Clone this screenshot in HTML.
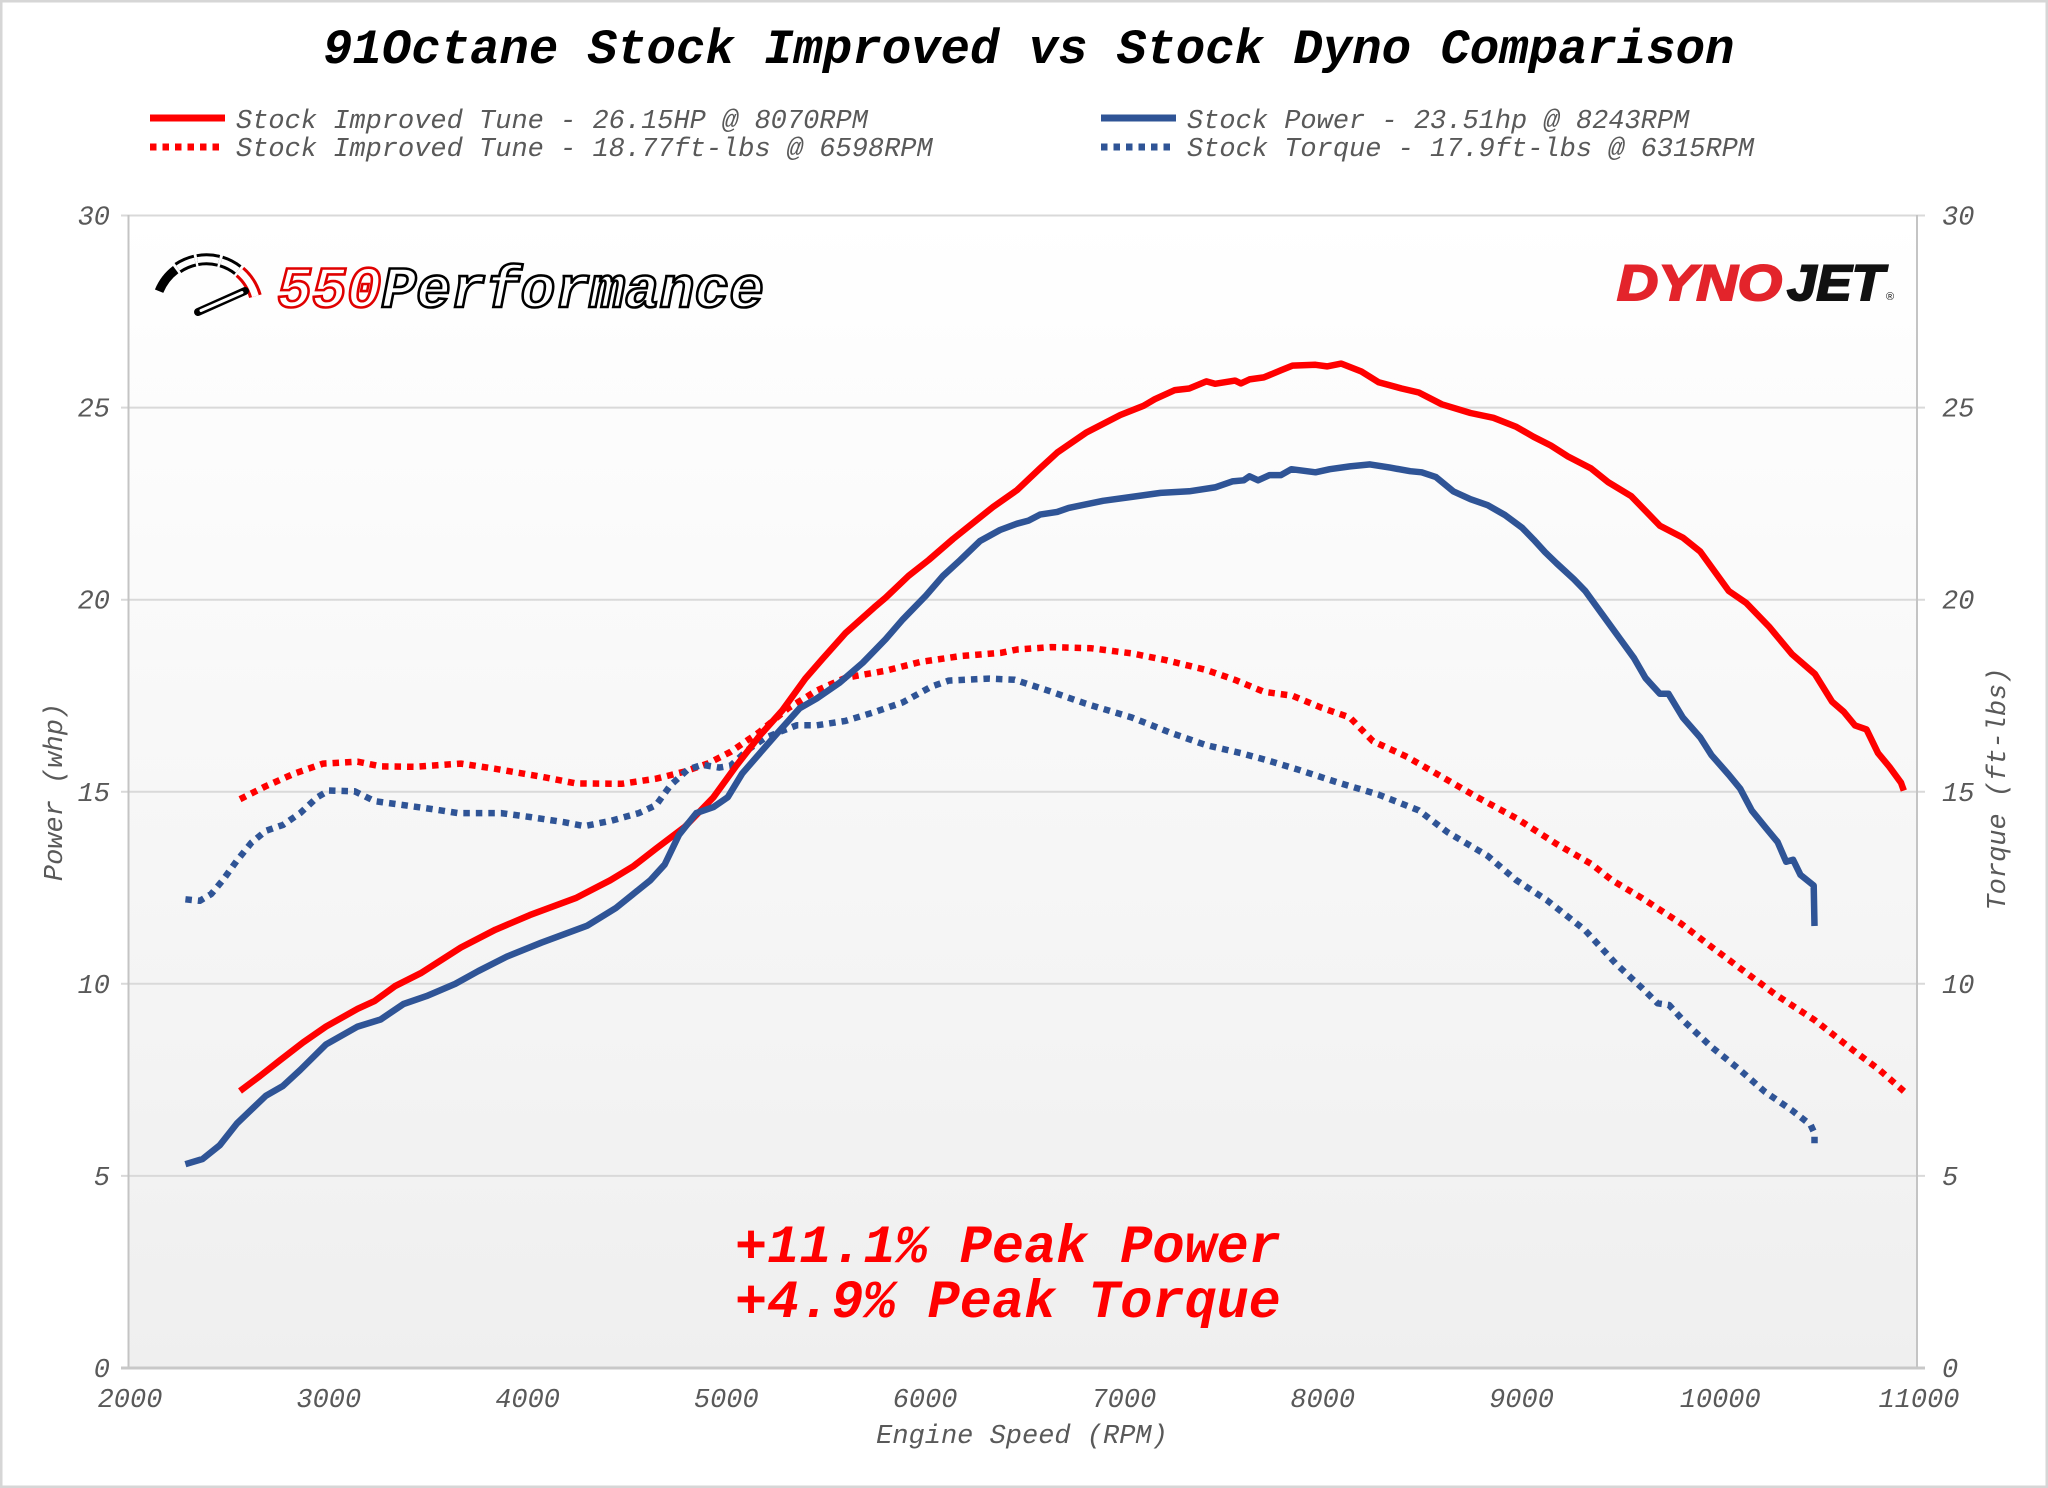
<!DOCTYPE html>
<html>
<head>
<meta charset="utf-8">
<style>
  html, body { margin: 0; padding: 0; background: #ffffff; }
  svg { display: block; }
  .mono { font-family: "Liberation Mono", "DejaVu Sans Mono", monospace; font-style: italic; }
  .tick { font-size: 27px; fill: #595959; }
  .leg { font-size: 27px; fill: #595959; }
</style>
</head>
<body>
<svg width="2048" height="1488" viewBox="0 0 2048 1488" xmlns="http://www.w3.org/2000/svg">
  <defs>
    <linearGradient id="bg" x1="0" y1="0" x2="0" y2="1">
      <stop offset="0" stop-color="#ffffff"/>
      <stop offset="1" stop-color="#efefef"/>
    </linearGradient>
  </defs>

  <!-- outer frame -->
  <rect x="0" y="0" width="2048" height="1488" fill="#d6d6d6"/>
  <rect x="2.5" y="2.5" width="2043" height="1483" fill="#ffffff"/>

  <!-- title -->
  <text class="mono" x="323" y="63" font-size="49" font-weight="bold" fill="#000">91Octane Stock Improved vs Stock Dyno Comparison</text>

  <!-- legend -->
  <line x1="150" y1="118" x2="225" y2="118" stroke="#ff0000" stroke-width="7"/>
  <line x1="150" y1="147" x2="225" y2="147" stroke="#ff0000" stroke-width="7" stroke-dasharray="6.5 6"/>
  <text class="mono leg" x="236" y="128">Stock Improved Tune - 26.15HP @ 8070RPM</text>
  <text class="mono leg" x="236" y="156">Stock Improved Tune - 18.77ft-lbs @ 6598RPM</text>

  <line x1="1101" y1="118" x2="1176" y2="118" stroke="#2f5496" stroke-width="7"/>
  <line x1="1101" y1="147" x2="1176" y2="147" stroke="#2f5496" stroke-width="7" stroke-dasharray="6.5 6"/>
  <text class="mono leg" x="1187" y="128">Stock Power - 23.51hp @ 8243RPM</text>
  <text class="mono leg" x="1187" y="156">Stock Torque - 17.9ft-lbs @ 6315RPM</text>

  <!-- plot background -->
  <rect x="128" y="215.5" width="1789" height="1152.5" fill="url(#bg)"/>

  <!-- gridlines -->
  <g stroke="#d9d9d9" stroke-width="2">
    <line x1="121" y1="215.5" x2="1925" y2="215.5"/>
    <line x1="121" y1="407.6" x2="1925" y2="407.6"/>
    <line x1="121" y1="599.7" x2="1925" y2="599.7"/>
    <line x1="121" y1="791.8" x2="1925" y2="791.8"/>
    <line x1="121" y1="983.8" x2="1925" y2="983.8"/>
    <line x1="121" y1="1175.9" x2="1925" y2="1175.9"/>
  </g>
  <!-- axes -->
  <line x1="128.5" y1="215" x2="128.5" y2="1368" stroke="#c4c4c4" stroke-width="2"/>
  <line x1="1917" y1="215" x2="1917" y2="1368" stroke="#c4c4c4" stroke-width="2"/>
  <line x1="121" y1="1368" x2="1925" y2="1368" stroke="#c8c8c8" stroke-width="3"/>

  <!-- left tick labels -->
  <g class="mono tick" text-anchor="end">
    <text x="110" y="224.5">30</text>
    <text x="110" y="416.6">25</text>
    <text x="110" y="608.7">20</text>
    <text x="110" y="800.8">15</text>
    <text x="110" y="992.8">10</text>
    <text x="110" y="1184.9">5</text>
    <text x="110" y="1377">0</text>
  </g>
  <!-- right tick labels -->
  <g class="mono tick" text-anchor="start">
    <text x="1942" y="224.5">30</text>
    <text x="1942" y="416.6">25</text>
    <text x="1942" y="608.7">20</text>
    <text x="1942" y="800.8">15</text>
    <text x="1942" y="992.8">10</text>
    <text x="1942" y="1184.9">5</text>
    <text x="1942" y="1377">0</text>
  </g>
  <!-- x tick labels -->
  <g class="mono tick" text-anchor="middle">
    <text x="130" y="1407">2000</text>
    <text x="328.8" y="1407">3000</text>
    <text x="527.6" y="1407">4000</text>
    <text x="726.3" y="1407">5000</text>
    <text x="925.1" y="1407">6000</text>
    <text x="1123.9" y="1407">7000</text>
    <text x="1322.7" y="1407">8000</text>
    <text x="1521.5" y="1407">9000</text>
    <text x="1720.2" y="1407">10000</text>
    <text x="1919" y="1407">11000</text>
  </g>

  <!-- axis titles -->
  <text class="mono tick" x="1022" y="1443" text-anchor="middle">Engine Speed (RPM)</text>
  <text class="mono tick" text-anchor="middle" transform="translate(62,792) rotate(-90)">Power (whp)</text>
  <text class="mono tick" text-anchor="middle" transform="translate(2005,789) rotate(-90)">Torque (ft-lbs)</text>

  <!-- 550 Performance logo -->
  <g fill="none" stroke-linecap="butt">
    <path d="M 159.1 291.2 A 51 51 0 0 1 175.7 269.6" stroke="#000" stroke-width="9"/>
    <path d="M 177.9 268.0 A 51 51 0 0 1 194.9 260.6" stroke="#000" stroke-width="12"/>
    <path d="M 177.9 268.0 A 51 51 0 0 1 194.9 260.6" stroke="#fff" stroke-width="6"/>
    <path d="M 197.5 260.1 A 51 51 0 0 1 218.7 260.8" stroke="#000" stroke-width="12"/>
    <path d="M 197.5 260.1 A 51 51 0 0 1 218.7 260.8" stroke="#fff" stroke-width="6"/>
    <path d="M 221.3 261.5 A 51 51 0 0 1 237.8 270.1" stroke="#000" stroke-width="12"/>
    <path d="M 221.3 261.5 A 51 51 0 0 1 237.8 270.1" stroke="#fff" stroke-width="6"/>
    <path d="M 239.9 271.8 A 51 51 0 0 1 255.4 296.2" stroke="#e00000" stroke-width="13"/>
    <path d="M 239.9 271.8 A 51 51 0 0 1 255.4 296.2" stroke="#fff" stroke-width="7"/>
    <line x1="198" y1="312" x2="245" y2="291" stroke="#000" stroke-width="8" stroke-linecap="round"/>
    <line x1="201" y1="310.5" x2="242" y2="292.5" stroke="#fff" stroke-width="3" stroke-linecap="round"/>
  </g>
  <text class="mono" x="277" y="307" font-size="58" font-weight="bold" fill="#ffffff" stroke-width="2.6" textLength="487" lengthAdjust="spacingAndGlyphs"><tspan stroke="#e00000">550</tspan><tspan stroke="#000000">Performance</tspan></text>

  <!-- DYNOJET logo -->
  <text x="1617" y="300" font-family="Liberation Sans, Arial, sans-serif" font-weight="bold" font-style="italic" font-size="50" fill="#e3242b" stroke="#e3242b" stroke-width="2" textLength="165" lengthAdjust="spacingAndGlyphs">DYNO</text>
  <text x="1787" y="300" font-family="Liberation Sans, Arial, sans-serif" font-weight="bold" font-style="italic" font-size="50" fill="#111111" stroke="#111111" stroke-width="2" textLength="97" lengthAdjust="spacingAndGlyphs">JET</text>
  <text x="1886" y="300" font-family="Liberation Sans, Arial, sans-serif" font-size="11" fill="#111">®</text>

  <!-- curves -->
  <g fill="none" stroke-linejoin="round">
    <!-- red dotted: improved torque -->
    <polyline stroke="#ff0000" stroke-width="6.5" stroke-dasharray="6.5 6" points="240,799.2 265.8,786.2 294.5,773.5 323.2,763.6 357.6,761.7 380.6,766.4 415,766.8 460.9,763.6 495.4,768.8 541.3,776.7 575.7,783.4 621.6,783.8 656.1,778.7 684.8,771.5 707.7,763.6 730.7,751.8 759.4,732 788.1,708.3 816.8,690.5 845.5,677.8 885.7,670.7 920.1,662 960.2,656.1 1000.5,652.9 1017,649.5 1051.4,647.1 1091.6,648.3 1131.8,653.4 1166.2,660.2 1206.4,670 1235.1,679.9 1263.8,691.8 1292.5,695.7 1321.2,707.6 1349.9,717.5 1372.9,741.2 1407.3,757 1441.8,776.8 1476.2,796.6 1516.4,818.3 1556.6,844 1591,863.8 1611.7,880 1642.3,898.3 1680.6,923.3 1711.2,946.7 1738,966.7 1776.2,995 1814.5,1020 1852.8,1050 1879.6,1070 1904.4,1091.7"/>
    <!-- blue dotted: stock torque -->
    <polyline stroke="#2f5496" stroke-width="6.5" stroke-dasharray="6.5 6" points="185.4,899.3 199.8,900.8 211.2,894.1 222.7,880.3 237,860.5 251.4,842.7 265.8,830.9 283,824.9 300.2,813.1 317.4,797.2 328.9,790.5 354.7,791.3 374.8,801.2 403.5,805.1 432.2,809.1 458,813.1 501.1,813.1 529.8,817 564.2,822.2 584.3,826.1 610.2,821 638.9,813.1 656.1,805.1 670.4,785.4 687.7,769.6 702,764.8 719.2,767.6 730.7,765.6 747.9,749.8 765.1,737.9 782.4,730.8 796.7,725.3 816.8,725.3 845.5,720.9 874.2,712.2 902.9,702.3 931.6,686.5 948.8,680.6 989,678.6 1014.8,679.8 1045.7,689.8 1085.9,703.7 1131.8,717.5 1172,733.3 1206.4,745.2 1240.9,753.1 1269.6,761 1298.3,769.7 1338.4,782.7 1378.6,794.6 1418.8,810.4 1447.5,832.2 1487.7,855.9 1516,880 1546.6,900 1584.9,930 1615.5,963.3 1642.3,988.3 1657.6,1003.3 1669.1,1005 1684.4,1021.7 1711.2,1046.7 1738,1068.3 1764.8,1091.7 1791.5,1110 1810.7,1125 1814.5,1133.3 1814.5,1146.7"/>
    <!-- red solid: improved power -->
    <polyline stroke="#ff0000" stroke-width="6.5" points="240,1091 260,1076 280.1,1060.2 303.1,1042.4 326,1026.6 357.6,1008.8 374.8,1000.9 394.9,986.2 420.7,973.2 460.9,947.5 495.4,929.7 529.8,915.1 575.7,898.1 610.2,880.3 633.1,866.4 656.1,848.6 684.8,826.9 713.5,797.2 736.4,765.6 759.4,736 782.4,710.3 805.3,678.6 822.5,658.9 845.5,633.1 874.2,607.4 885.7,597.6 908.6,575.8 928.7,560 953,539 993,507 1017,490.1 1040,468.4 1057.2,452.6 1085.9,432.8 1120.3,415 1143.3,405.9 1154.8,399.2 1174.9,390.1 1189.2,388.5 1206.4,381.4 1215,383.8 1235.1,380.6 1240.9,383.4 1249.5,379.4 1263.8,377.4 1281,370.3 1292.5,365.6 1315.5,364.8 1327,366.4 1341.3,363.6 1361.4,371.5 1378.6,382.2 1401.6,388.5 1418.8,392.5 1441.8,404.3 1470.5,413 1493.4,417.8 1516.4,426.9 1533.6,436.8 1550.8,445.5 1568,456.5 1591,468.4 1608.2,482.2 1631.2,496.1 1659.9,525.7 1682.8,537.6 1700.1,551.4 1728.8,591 1746,602.8 1769,626.6 1792,654.2 1814.9,674 1832.1,701.7 1843.6,711.6 1855,725.4 1866.5,729.4 1878,753.1 1889.5,766.9 1901,782.7 1903.8,790.6"/>
    <!-- blue solid: stock power -->
    <polyline stroke="#2f5496" stroke-width="6.5" points="185.4,1164.2 202.6,1159 219.8,1145.2 237,1123.4 265.8,1095.8 283,1085.9 300.2,1070 326,1044.4 357.6,1026.6 380.6,1019.5 403.5,1004 426.5,996.1 455.2,983.9 478.1,971.2 506.8,956.6 541.3,942.7 587.2,925.7 615.9,908 650.3,880.3 664.7,864.5 679,834.8 696.3,813.1 713.5,807.1 727.8,797.2 742.2,773.5 759.4,753.7 776.6,734 799.6,708.3 816.8,698.4 839.8,682.6 862.7,662.8 885.7,639.1 902.9,619.3 925.9,595.6 943.1,575.8 960.3,560 980,541 1000,530 1017,523.7 1028.5,520.6 1040,514.6 1057.2,511.9 1068.7,507.9 1103.1,500.8 1131.8,496.9 1160.5,492.9 1189.2,491.3 1215,487.4 1232.3,481.4 1243.7,480.3 1249.5,476.3 1258.1,480.3 1269.6,475.1 1281,475.1 1291.4,469.2 1315.5,472.3 1329.8,469.2 1349.9,466.4 1370,464.4 1390.1,467.6 1410.2,471.2 1421.7,472.3 1436,477.1 1453.2,491.3 1470.5,499.2 1487.7,505.2 1504.9,515 1522.1,527.7 1533.6,539.6 1545.1,552.2 1556.6,563.3 1573.8,579.1 1585.3,591 1602.5,614.7 1619.7,638.4 1634.1,658.2 1645.5,678 1659.9,693.8 1668.5,693.8 1682.8,717.5 1700.1,737.3 1711.5,755.1 1728.8,774.8 1740.2,788.7 1751.7,810.4 1766.1,828.2 1777.6,842 1786.2,861.8 1793.1,859.8 1800.5,874.9 1813.7,885.5 1814.5,926"/>
  </g>

  <!-- annotation -->
  <text class="mono" x="735" y="1262" font-size="53.5" font-weight="bold" fill="#ff0000">+11.1% Peak Power</text>
  <text class="mono" x="735" y="1317" font-size="53.5" font-weight="bold" fill="#ff0000">+4.9% Peak Torque</text>
</svg>
</body>
</html>
